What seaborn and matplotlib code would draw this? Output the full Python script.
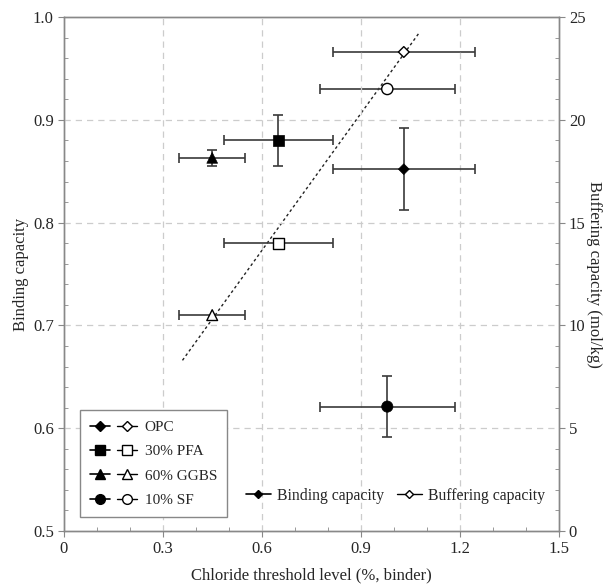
import matplotlib
matplotlib.use("Agg")
from matplotlib import pyplot as plt
from matplotlib.lines import Line2D
from matplotlib.legend_handler import HandlerTuple
from matplotlib.ticker import MultipleLocator
import seaborn as sns
import pandas as pd

# values
mixes = ["OPC", "30% PFA", "60% GGBS", "10% SF"]
markers = ["D", "s", "^", "o"]
threshold = [1.03, 0.65, 0.45, 0.98]
threshold_err = [0.215, 0.165, 0.10, 0.205]
binding = [0.852, 0.880, 0.863, 0.621]
binding_err = [0.040, 0.025, 0.008, 0.030]
buffering = [23.3, 14.0, 10.5, 21.5]

# dotted trend line for buffering capacity (end points)
fit_x = [0.36, 1.075]
fit_y = [8.3, 24.2]

df = pd.DataFrame({"mix": mixes, "threshold": threshold, "binding": binding,
                   "buffering": buffering})
mk = dict(zip(mixes, markers))
msz = {"OPC": 30, "30% PFA": 60, "60% GGBS": 60, "10% SF": 65}

sns.set_style("white")
plt.rcParams["font.family"] = ["Liberation Serif", "DejaVu Serif"]
plt.rcParams["font.size"] = 12

fig = plt.figure(figsize=(6.11, 5.88), dpi=100)
ax = fig.add_axes([0.104, 0.097, 0.811, 0.874])
ax2 = ax.twinx()

ebc = "#3a3a3a"
# binding capacity (left axis, filled)
ax.errorbar(threshold, binding, xerr=threshold_err, yerr=binding_err, fmt="none",
            ecolor=ebc, elinewidth=1.2, capsize=3.5, capthick=1.2, zorder=3)
sns.scatterplot(data=df, x="threshold", y="binding", style="mix", markers=mk,
                size="mix", sizes=msz, color="black", edgecolor="black",
                ax=ax, legend=False, zorder=4)

# buffering capacity (right axis, open)
ax2.errorbar(threshold, buffering, xerr=threshold_err, fmt="none",
             ecolor=ebc, elinewidth=1.2, capsize=3.5, capthick=1.2, zorder=3)
sns.scatterplot(data=df, x="threshold", y="buffering", style="mix", markers=mk,
                size="mix", sizes=msz, facecolor="white", edgecolor="black",
                linewidth=1.0, ax=ax2, legend=False, zorder=4)
ax2.plot(fit_x, fit_y, ls=(0, (2, 2)), color="#222222", lw=1.0, zorder=2)

ax.set_xlim(0, 1.5)
ax.set_ylim(0.5, 1.0)
ax2.set_ylim(0, 25)
ax.set_xticks([0, 0.3, 0.6, 0.9, 1.2, 1.5])
ax.set_xticklabels(["0", "0.3", "0.6", "0.9", "1.2", "1.5"])
ax.set_yticks([0.5, 0.6, 0.7, 0.8, 0.9, 1.0])
ax.set_yticklabels(["0.5", "0.6", "0.7", "0.8", "0.9", "1.0"])
ax2.set_yticks([0, 5, 10, 15, 20, 25])
ax.xaxis.set_minor_locator(MultipleLocator(0.1))
ax.yaxis.set_minor_locator(MultipleLocator(0.02))
ax2.yaxis.set_minor_locator(MultipleLocator(1))

for a in (ax, ax2):
    a.tick_params(which="major", direction="out", length=4, width=0.8,
                  color="#888888", labelsize=12, pad=3)
    a.tick_params(which="minor", direction="in", length=3, width=0.6,
                  color="#888888")
    for s in a.spines.values():
        s.set_color("#888888")
        s.set_linewidth(1.0)
ax.tick_params(axis="y", which="both", left=True, right=False)
ax.tick_params(axis="x", which="both", bottom=True, top=False)
ax2.tick_params(axis="y", which="both", right=True, left=False)

for v in [0.3, 0.6, 0.9, 1.2]:
    ax.axvline(v, color="#cccccc", ls=(0, (5, 4)), lw=0.9, zorder=0)
for v in [0.6, 0.7, 0.8, 0.9]:
    ax.axhline(v, color="#cccccc", ls=(0, (5, 4)), lw=0.9, zorder=0)
ax.set_zorder(ax2.get_zorder() + 1)
ax.patch.set_visible(False)

ax.set_xlabel("Chloride threshold level (%, binder)", fontsize=12, labelpad=8)
ax.set_ylabel("Binding capacity", fontsize=12, labelpad=3)
ax2.set_ylabel("Buffering capacity (mol/kg)", fontsize=12, rotation=270, labelpad=12)

# legend for mixes: filled and open marker pairs
handles = []
for m in markers:
    ms = 5.5 if m == "D" else 7
    h1 = Line2D([], [], color="black", marker=m, ms=ms, mfc="black", mec="black", lw=1.2)
    h2 = Line2D([], [], color="black", marker=m, ms=ms, mfc="white", mec="black", lw=1.0)
    handles.append((h1, h2))
leg1 = ax.legend(handles, mixes, handler_map={tuple: HandlerTuple(ndivide=None, pad=0.5)},
                 loc="lower left", bbox_to_anchor=(0.033, 0.027), handlelength=3.1,
                 fancybox=False, edgecolor="#888888", framealpha=1, fontsize=11,
                 labelspacing=0.7, borderpad=0.65, handletextpad=0.5, borderaxespad=0)
leg1.get_frame().set_linewidth(1.0)
ax.add_artist(leg1)

h_bind = Line2D([], [], color="black", marker="D", ms=4.5, mfc="black", lw=1.2)
h_buf = Line2D([], [], color="black", marker="D", ms=4.5, mfc="white", lw=1.0)
ax.legend([h_bind, h_buf], ["Binding capacity", "Buffering capacity"], ncol=2,
          loc="lower right", bbox_to_anchor=(1.0, 0.025), frameon=False, fontsize=11.3,
          handlelength=1.6, columnspacing=0.8, handletextpad=0.4)

fig.savefig("out.png", dpi=100)
